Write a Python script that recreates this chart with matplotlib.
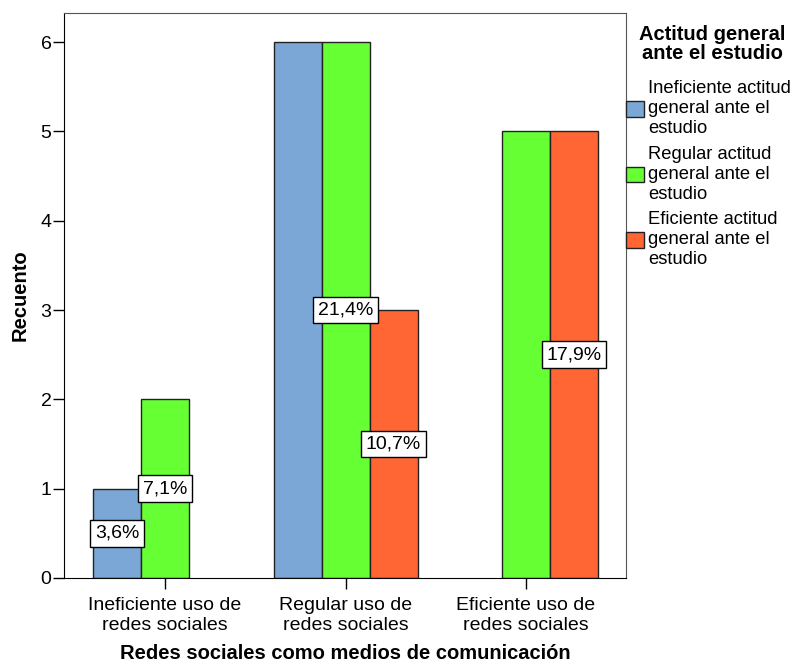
import numpy as np
import matplotlib
matplotlib.use("Agg")
from matplotlib import pyplot as plt

plt.rcParams['font.family'] = ['Liberation Sans', 'DejaVu Sans']

categorias = ["Ineficiente uso de\nredes sociales", "Regular uso de\nredes sociales", "Eficiente uso de\nredes sociales"]
series = ["Ineficiente actitud\ngeneral ante el\nestudio", "Regular actitud\ngeneral ante el\nestudio", "Eficiente actitud\ngeneral ante el\nestudio"]
recuento = [
    [1, 6, 0],   # ineficiente actitud
    [2, 6, 5],   # regular actitud
    [0, 3, 5],   # eficiente actitud
]
# etiquetas de porcentaje (serie, categoria, texto)
etiquetas = [(0, 0, "3,6%"), (1, 0, "7,1%"), (1, 1, "21,4%"), (2, 1, "10,7%"), (2, 2, "17,9%")]
colores = ["#7BA7D6", "#66FF33", "#FF6633"]

fig = plt.figure(figsize=(8.03, 6.67), dpi=100)
ax = fig.add_axes([64 / 803, 89 / 667, 562 / 803, 565 / 667])

x = np.arange(len(categorias))
ancho = 0.266
for i in range(len(series)):
    pos = x + (i - 1) * ancho
    vals = np.array(recuento[i])
    ax.bar(pos[vals > 0], vals[vals > 0], width=ancho, color=colores[i],
           edgecolor="#222222", linewidth=1.0, label=series[i], zorder=2)

for s, c, txt in etiquetas:
    ax.text(x[c] + (s - 1) * ancho, recuento[s][c] / 2, txt, ha="center", va="center",
            fontsize=14, zorder=4,
            bbox=dict(boxstyle="square,pad=0.25", facecolor="white", edgecolor="black", linewidth=1))

ax.set_xlim(-0.56, 2.554)
ax.set_ylim(0, 6.325)
ax.set_xticks(x)
ax.set_xticklabels(categorias, fontsize=14, linespacing=1.18)
ax.set_yticks(range(7))
ax.tick_params(axis="y", length=8, width=1, pad=1, labelsize=14)
ax.tick_params(axis="x", length=8, width=1, pad=6, labelsize=14)
for lado in ["top", "right"]:
    ax.spines[lado].set_color("#555555")
for lado in ["left", "bottom"]:
    ax.spines[lado].set_color("black")

ax.set_xlabel("Redes sociales como medios de comunicación", fontsize=14.5, fontweight="bold", labelpad=7)
ax.set_ylabel("Recuento", fontsize=14.5, fontweight="bold", labelpad=8)

fig.text(712 / 803, 1 - 44 / 667, "Actitud general\nante el estudio", ha="center", va="center",
         fontsize=14.5, fontweight="bold", linespacing=1.05)

leg = ax.legend(loc="upper left", bbox_to_anchor=(1.0, 0.881), frameon=False,
                fontsize=13.2, handlelength=1.0, handleheight=0.95, handletextpad=0.2,
                borderaxespad=0, borderpad=0, labelspacing=0.45)
plt.setp(leg.get_texts(), linespacing=1.24)

fig.savefig("out.png", dpi=100)
